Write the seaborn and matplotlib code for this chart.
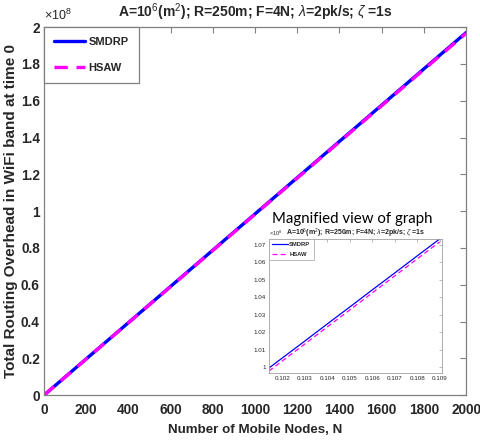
import matplotlib
matplotlib.use('Agg')
import matplotlib.pyplot as plt
import seaborn as sns
import pandas as pd
from matplotlib.ticker import FuncFormatter

# ---- data (overhead in units of 1e8) ----
nodes = [0, 200, 400, 600, 800, 1000, 1200, 1400, 1600, 1800, 2000]
smdrp = [0, 0.197, 0.394, 0.591, 0.788, 0.985, 1.182, 1.379, 1.576, 1.773, 1.970]
hsaw = [0, 0.1966, 0.3932, 0.5898, 0.7864, 0.983, 1.1796, 1.3762, 1.5728, 1.7694, 1.966]

inset_x = [0.1014, 0.102, 0.103, 0.104, 0.105, 0.106, 0.107, 0.108, 0.109]
inset_smdrp = [0.9994, 1.0052, 1.0149, 1.0247, 1.0344, 1.0442, 1.0539, 1.0637, 1.0734]
inset_hsaw = [0.9977, 1.0035, 1.0132, 1.0230, 1.0327, 1.0425, 1.0522, 1.0620, 1.0717]

x_ticks = [0, 200, 400, 600, 800, 1000, 1200, 1400, 1600, 1800, 2000]
y_ticks = [0, 0.2, 0.4, 0.6, 0.8, 1.0, 1.2, 1.4, 1.6, 1.8, 2.0]
inset_xticks = [0.102, 0.103, 0.104, 0.105, 0.106, 0.107, 0.108, 0.109]
inset_yticks = [1.0, 1.01, 1.02, 1.03, 1.04, 1.05, 1.06, 1.07]

sns.set_theme(style='white')
plt.rcParams['font.family'] = ['Liberation Sans Narrow', 'Liberation Sans', 'DejaVu Sans']
plt.rcParams['mathtext.fontset'] = 'custom'
plt.rcParams['mathtext.rm'] = 'Liberation Sans'
plt.rcParams['mathtext.it'] = 'Liberation Sans:italic'
plt.rcParams['mathtext.bf'] = 'Liberation Sans:bold'

BLUE = '#0000ff'
MAG = '#ff00ff'
GRAY = '#808080'

fig = plt.figure(figsize=(4.81, 4.44), dpi=100)
ax = fig.add_axes([0.0915, 0.110, 0.8775, 0.829])

df_main = pd.DataFrame({'N': nodes, 'SMDRP': smdrp, 'HSAW': hsaw})
sns.lineplot(data=df_main, x='N', y='SMDRP', ax=ax, color=BLUE, linewidth=2.4, label='SMDRP')
sns.lineplot(data=df_main, x='N', y='HSAW', ax=ax, color=MAG, linewidth=2.4, label='HSAW',
             linestyle=(0, (4, 2.6)))

ax.set_xlim(0, 2000)
ax.set_ylim(0, 2)
ax.set_xticks(x_ticks)
ax.set_yticks(y_ticks)
ax.yaxis.set_major_formatter(FuncFormatter(lambda v, p: '%g' % round(v, 2)))
for sp in ax.spines.values():
    sp.set_color(GRAY)
    sp.set_linewidth(0.9)
ax.tick_params(direction='in', length=4, width=0.8, color=GRAY, top=True, right=True,
               labelsize=9.8)
ax.tick_params(axis='x', pad=6)
ax.tick_params(axis='y', pad=3)
for lab in ax.get_xticklabels() + ax.get_yticklabels():
    lab.set_fontweight('bold')
ax.set_xlabel('Number of Mobile Nodes, N', fontsize=9.6, fontweight='bold', labelpad=5)
ax.set_ylabel('Total Routing Overhead in WiFi band at time 0', fontsize=11, fontweight='bold', labelpad=2)
ax.set_title(r'A=10$^{6}$(m$^{2}$); R=250m; F=4N; $\lambda$=2pk/s; $\zeta$ =1s',
             fontsize=10, fontweight='bold', pad=7)
ax.text(0.0, 1.012, r'$\times$10$^{8}$', transform=ax.transAxes, fontsize=9, ha='left', va='bottom')

leg = ax.legend(loc='upper left', borderaxespad=0, fancybox=False, framealpha=1,
                edgecolor=GRAY, prop={'weight': 'bold', 'size': 8}, handlelength=2.8,
                borderpad=0.9, labelspacing=1.4, handletextpad=0.3)
leg.get_frame().set_linewidth(0.9)

# ---- inset ----
fig.text(0.733, 0.507, 'Magnified view of graph', fontsize=10.8, family='Lato',
         ha='center', va='center', color='black')
ax2 = fig.add_axes([0.559, 0.160, 0.360, 0.302])
df_in = pd.DataFrame({'x': inset_x, 'SMDRP': inset_smdrp, 'HSAW': inset_hsaw})
sns.lineplot(data=df_in, x='x', y='SMDRP', ax=ax2, color=BLUE, linewidth=0.9, label='SMDRP')
sns.lineplot(data=df_in, x='x', y='HSAW', ax=ax2, color=MAG, linewidth=0.9, label='HSAW',
             linestyle=(0, (4, 2.5)))
ax2.set_xlim(0.1014, 0.1091)
ax2.set_ylim(0.9966, 1.0734)
ax2.set_xticks(inset_xticks)
ax2.set_yticks(inset_yticks)
ax2.xaxis.set_major_formatter(FuncFormatter(lambda v, p: '%g' % round(v, 3)))
ax2.yaxis.set_major_formatter(FuncFormatter(lambda v, p: '%g' % round(v, 2)))
ax2.set_xlabel('')
ax2.set_ylabel('')
for sp in ax2.spines.values():
    sp.set_color('#a0a0a0')
    sp.set_linewidth(0.6)
ax2.tick_params(direction='in', length=2, width=0.5, color='#a0a0a0', top=True, right=True,
                labelsize=4.5, pad=2)
ax2.set_title(r'A=10$^{6}$(m$^{2}$); R=250m; F=4N; $\lambda$=2pk/s; $\zeta$ =1s',
              fontsize=5, fontweight='bold', pad=2.5)
ax2.text(0.0, 1.01, r'$\times$10$^{8}$', transform=ax2.transAxes, fontsize=4, ha='left', va='bottom')
leg2 = ax2.legend(loc='upper left', borderaxespad=0, fancybox=False, framealpha=1,
                  edgecolor='#a0a0a0', prop={'weight': 'bold', 'size': 4.2}, handlelength=2.6,
                  borderpad=0.6, labelspacing=0.7, handletextpad=0.3)
leg2.get_frame().set_linewidth(0.5)

fig.savefig('out.png', dpi=100)
